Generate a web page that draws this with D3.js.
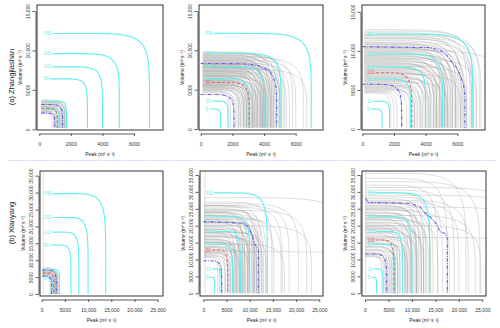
<!DOCTYPE html>
<html><head><meta charset="utf-8">
<script src="https://cdn.jsdelivr.net/npm/d3@7"></script>
<style>body{margin:0;background:#fff} text{font-family:"Liberation Sans",Arial,sans-serif}</style>
</head><body><svg id="c" width="500" height="328"></svg>
<script>
// ---------------- DATA ----------------
const rowNames = ["(a) Zhangjiashan", "(b) Xianyang"];
const xTicksTop = [0, 2000, 4000, 6000];
const yTicksTop = [0, 5000, 10000, 15000];
const xTicksBot = [0, 5000, 10000, 15000, 20000, 25000];
const yTicksBot = [0, 5000, 10000, 15000, 20000, 25000, 30000, 35000];

// return-period contours (cyan), asymptotic volume V and peak P
const cyanLabels = ["5", "10", "50", "100", "200", "500"];
const cyanVTop = [2550, 3550, 6400, 7920, 9600, 12150];
const cyanPTop = [1250, 1720, 3050, 4000, 5070, 6980];
const cyanVBot = [4700, 7200, 14500, 18300, 22650, 29700];
const cyanPBot = [2450, 3850, 6300, 8000, 10000, 13800];

// red dashed contour per panel
const redLabel = [null, "50", "100", null, "50", "100"];
const redV = [2660, 5910, 7200, 6200, 12810, 15770];
const redP = [1140, 3070, 3120, 2600, 5250, 6180];
// blue dash-dot bounds per panel
const blueInV = [2050, 4390, 5720, 5300, 9650, 11630];
const blueInP = [980, 2100, 2480, 2100, 3960, 4620];
const blueOutV = [3150, 8320, null, 7000, null, null];
const blueOutP = [1480, 4800, null, 3150, null, null];
const blueOut3X = [0, 4270, 4900, 5330, 5640, 5920, 6170, 6340, 6460, 6480, 6480];
const blueOut3V = [10530, 10400, 10100, 9460, 8610, 7970, 6900, 6050, 4990, 3710, 80];
const blueOut5X = [0, 5000, 8600, 9700, 10400, 11000, 11400, 11860, 11860];
const blueOut5V = [21200, 21000, 20700, 19700, 17700, 14600, 14000, 12800, 0];
const blueOut6X = [140, 710, 9600, 11730, 12790, 13860, 15140, 15990, 17060, 17550, 17550];
const blueOut6V = [28100, 26820, 26620, 25630, 23660, 22670, 20700, 18230, 17740, 16260, 0];

// grey sampled contours (V, P) per panel
const g1V = [3700, 3600, 3500, 3400, 3300, 3200, 3100, 3000, 2900, 2800, 2700, 2600, 2500, 2400, 2300, 2200, 2100, 3450, 3150, 2850, 2550, 2250];
const g1P = [1750, 1600, 1700, 1500, 1650, 1400, 1550, 1350, 1450, 1250, 1300, 1150, 1200, 1050, 1000, 900, 800, 1600, 1450, 1300, 1100, 950];
const g2V = [9800, 9700, 9600, 9500, 9400, 9300, 9200, 9100, 9000, 8900, 8800, 8700, 8600, 8500, 8400, 8300, 8200, 8100, 8000, 7900, 7800, 7700, 7600, 7500, 7400, 7300, 7200, 7100, 7000, 6900, 6800, 6700, 6600, 6500, 6400, 6300, 6200, 6100, 6000, 5900, 5800, 5700, 5600, 5500, 5400, 5300, 5200, 5100, 5000, 4900, 4800, 4700, 4600, 8800, 9300, 7800, 8200,
  8450, 8250, 8050, 7850, 7650, 7450, 7250, 7050, 6850, 6650, 6450, 6250, 6050, 5850, 5650, 5450, 5250, 5050, 7950, 7350, 6750, 6150, 5550, 8650, 9050];
const g2P = [4500, 5100, 4800, 5300, 4300, 5000, 4600, 6500, 4900, 4200, 5200, 4700, 4000, 4500, 5600, 4100, 4400, 3800, 4300, 3900, 4600, 3700, 6700, 4100, 3500, 4000, 3600, 4400, 3400, 3800, 3300, 3700, 3100, 4200, 3200, 3500, 3000, 3300, 2800, 3600, 2900, 2700, 3100, 2600, 2900, 2400, 2700, 2300, 2500, 2100, 1900, 2200, 1800, 6000, 5800, 5400, 5000,
  3900, 4700, 4100, 3600, 4200, 3800, 3300, 3900, 3500, 3000, 3400, 2900, 3200, 2700, 3000, 2500, 2800, 2400, 5000, 4500, 4000, 3800, 3300, 4400, 4000];
const g3V = [12700, 12500, 12300, 12100, 11900, 11700, 11500, 11300, 11100, 10900, 10700, 10500, 10300, 10100, 10000, 9900, 9700, 9500, 9300, 9100, 8900, 8700, 8500, 8300, 8100, 7900, 7700, 7500, 7300, 7100, 6900, 6700, 6500, 6300, 6100, 5900, 5700, 5500, 5300, 5100, 5000, 4900, 4800, 4700, 4600, 9000, 8000, 7000, 10500, 11000, 6000,
  10800, 10400, 10200, 9800, 9600, 9400, 9200, 8800, 8600, 8400, 8200, 7800, 7600, 7400, 7200, 6800, 6600, 6400, 6200, 5800, 5600, 5400, 5200, 12000, 11600];
const g3P = [7000, 7400, 6600, 7500, 6200, 7200, 6800, 5900, 7000, 6400, 5600, 6900, 6000, 5300, 9000, 5800, 5000, 6300, 5500, 4700, 5900, 5200, 4500, 5600, 4800, 4300, 5300, 4600, 4000, 5000, 4200, 3800, 4600, 3600, 4000, 3400, 3200, 3700, 3000, 2800, 3300, 2500, 2200, 2000, 1800, 7200, 6600, 6200, 4900, 5200, 5400,
  6100, 5700, 6500, 5400, 5900, 5200, 5700, 4900, 5400, 4700, 5100, 4500, 4900, 4300, 4700, 4100, 4400, 3900, 4200, 3700, 3500, 3300, 3100, 6900, 6300];
const g4V = [60000, 7600, 7400, 7200, 7000, 6800, 6600, 6400, 6200, 6000, 5800, 5600, 5400, 5200, 5100, 7100, 6500, 5900];
const g4P = [350, 3580, 3300, 3450, 3100, 3250, 2900, 3000, 2700, 2800, 2500, 2400, 2200, 2000, 1800, 3350, 2850, 2300];
const g5V = [60000, 28300, 27000, 26500, 26000, 25500, 25000, 24500, 24000, 23500, 23000, 22500, 22000, 21500, 21000, 20500, 20000, 19500, 19000, 18500, 18000, 17500, 17000, 16500, 16000, 15500, 15000, 14500, 14000, 13500, 13000, 12500, 12300, 12000, 11500, 11200, 11000, 10800, 10600, 22000, 26000, 21000, 18000, 15000, 24000, 20000, 17000, 13500, 19000, 23000, 16000,
  25800, 24800, 23800, 22800, 21800, 20800, 19800, 18800, 17800, 16800, 15800, 14800, 13800, 12800, 11800, 24200, 21200, 18200, 15200, 12200];
const g5P = [370, 32000, 14800, 20500, 12500, 17000, 11500, 22300, 10500, 13000, 9800, 15200, 11000, 8900, 12000, 9500, 23300, 8300, 10800, 7800, 13500, 9000, 7200, 11500, 6800, 8500, 6300, 17500, 7500, 5800, 10000, 5200, 40000, 6500, 4600, 4000, 5500, 3500, 3100, 16800, 18500, 7500, 6000, 9500, 8500, 11500, 10000, 8000, 6800, 12000, 5300,
  11000, 12000, 9500, 10800, 9000, 11200, 8600, 9800, 8000, 10500, 7200, 8200, 6500, 7800, 5800, 13500, 12500, 12800, 7000, 4800];
const g6V = [60000, 35500, 34000, 33000, 32000, 31300, 30500, 29800, 29000, 28500, 28000, 27500, 27000, 26500, 26000, 25500, 25000, 24500, 24000, 23500, 23000, 22500, 22000, 21500, 21000, 20500, 20000, 19500, 19000, 18500, 18000, 17500, 17000, 16500, 16000, 15500, 15000, 14500, 14000, 13500, 13000, 12500, 12000, 11500, 11200, 11000, 10800, 27000, 23000, 20000,
  26800, 25800, 24800, 23800, 22800, 21800, 20800, 19800, 18800, 17800, 16800, 15800, 14800, 13800, 12800, 11800, 25200, 22200, 19200, 16200];
const g6P = [150, 21500, 17500, 24500, 15500, 34000, 19000, 13800, 36000, 16500, 12500, 22000, 11500, 14500, 10800, 38000, 12000, 18000, 9800, 13000, 9200, 11000, 8600, 15500, 10000, 8000, 12000, 7400, 9500, 6900, 11000, 6500, 8500, 40000, 6000, 7500, 5600, 9000, 5200, 6500, 4800, 5800, 4400, 5000, 4000, 3600, 4300, 20000, 23500, 24700,
  13000, 11000, 12500, 10500, 12000, 9800, 11300, 9000, 10200, 8500, 9800, 7000, 8000, 6200, 7000, 5500, 14000, 13500, 12500, 9000];

const greyV = [g1V, g2V, g3V, g4V, g5V, g6V];
const greyP = [g1P, g2P, g3P, g4P, g5P, g6P];
const blueJagX = [null, null, blueOut3X, null, blueOut5X, blueOut6X];
const blueJagV = [null, null, blueOut3V, null, blueOut5V, blueOut6V];

// ---------------- LAYOUT ----------------
const layouts = [
  {box: [37, 5, 163, 130], xd: [0, 6000], xr: [39.3, 134], yd: [0, 15000], yr: [129.3, 11], row: 0},
  {box: [199, 5, 323, 130], xd: [0, 6000], xr: [200.7, 295.7], yd: [0, 15000], yr: [129, 11], row: 0},
  {box: [362, 5, 485, 130], xd: [0, 6000], xr: [362.3, 457.3], yd: [0, 15000], yr: [129, 11.7], row: 0},
  {box: [40, 171, 163, 296], xd: [0, 25000], xr: [41.7, 157.7], yd: [0, 35000], yr: [294, 175.7], row: 1},
  {box: [200, 171, 323, 296], xd: [0, 25000], xr: [203.3, 319.3], yd: [0, 35000], yr: [293.3, 175], row: 1},
  {box: [362, 171, 486, 296], xd: [0, 25000], xr: [365, 482.3], yd: [0, 35000], yr: [293.3, 175], row: 1}
];

const CYAN = "#5ff0f0", BLUE = "#6262e6", RED = "#e26a6a", GREY = "#8c8c8c";
const svg = d3.select("#c");
const fmt = v => v >= 10000 ? d3.format(",")(v) : String(v);

function seCurve(x0, y0, P, V, n) {
  const pts = [];
  const steps = 120;
  for (let i = 0; i <= steps; i++) {
    const th = i / steps * Math.PI / 2;
    pts.push([x0 + (P - x0) * Math.pow(Math.sin(th), 2 / n),
              y0 + (V - y0) * Math.pow(Math.cos(th), 2 / n)]);
  }
  return pts;
}

// separator
svg.append("line").attr("x1", 8).attr("x2", 496).attr("y1", 160.5).attr("y2", 160.5)
  .attr("stroke", "#b4b4ee").attr("stroke-width", 0.8).attr("stroke-dasharray", "1.2,1.2");

layouts.forEach((L, i) => {
  const [bx0, by0, bx1, by1] = L.box;
  const x = d3.scaleLinear().domain(L.xd).range(L.xr);
  const y = d3.scaleLinear().domain(L.yd).range(L.yr);
  const line = d3.line().x(d => x(d[0])).y(d => y(d[1]));
  const top = L.row === 0;
  const y0 = top ? 150 : 0;
  const gx0 = top ? 120 : 150;

  svg.append("clipPath").attr("id", "cp" + i).append("rect")
    .attr("x", bx0).attr("y", by0).attr("width", bx1 - bx0).attr("height", by1 - by0);
  const g = svg.append("g").attr("clip-path", `url(#cp${i})`);

  // grey sampled curves
  greyV[i].forEach((V, j) => {
    g.append("path").attr("d", line(seCurve(gx0, y0, greyP[i][j], V, 6)))
      .attr("fill", "none").attr("stroke", GREY).attr("stroke-opacity", 0.32).attr("stroke-width", 0.9);
  });

  // cyan contours with labels
  const cV = top ? cyanVTop : cyanVBot, cP = top ? cyanPTop : cyanPBot;
  const labX = top ? 300 : 520;
  cyanLabels.forEach((lab, k) => {
    const t = svg.append("text").attr("x", x(labX)).attr("y", y(cV[k])).attr("dy", "0.35em")
      .attr("font-size", 4.6).attr("fill", CYAN).text(lab);
    const w = t.node().getComputedTextLength();
    const xs = x.invert(x(labX) + w + 1.2);
    g.append("path").attr("d", line(seCurve(xs, y0, cP[k], cV[k], 7)))
      .attr("fill", "none").attr("stroke", CYAN).attr("stroke-width", 1.1);
  });

  // blue bounds
  const bStart = (i === 0 || i === 3) ? gx0 : 0;
  g.append("path").attr("d", line(seCurve(bStart, y0, blueInP[i], blueInV[i], 6)))
    .attr("fill", "none").attr("stroke", BLUE).attr("stroke-width", 1.1).attr("stroke-dasharray", "3.5,1.3,1,1.3");
  let outPts;
  if (blueOutV[i] !== null) outPts = seCurve(bStart, y0, blueOutP[i], blueOutV[i], 6);
  else outPts = blueJagX[i].map((xx, k) => [xx, blueJagV[i][k]]);
  g.append("path").attr("d", line(outPts))
    .attr("fill", "none").attr("stroke", BLUE).attr("stroke-width", 1.1).attr("stroke-dasharray", "3.5,1.3,1,1.3");

  // red
  let rx = bStart;
  if (redLabel[i]) {
    const t = svg.append("text").attr("x", x(labX)).attr("y", y(redV[i])).attr("dy", "0.35em")
      .attr("font-size", 4.6).attr("fill", RED).text(redLabel[i]);
    rx = x.invert(x(labX) + t.node().getComputedTextLength() + 1.2);
  }
  g.append("path").attr("d", line(seCurve(rx, y0, redP[i], redV[i], 6)))
    .attr("fill", "none").attr("stroke", RED).attr("stroke-width", 1.1).attr("stroke-dasharray", "3.2,1.8");

  // box
  svg.append("rect").attr("x", bx0).attr("y", by0).attr("width", bx1 - bx0).attr("height", by1 - by0)
    .attr("fill", "none").attr("stroke", "#333").attr("stroke-width", 1);

  // x axis
  const xa = svg.append("g").attr("transform", `translate(0,${by1 + 3.5})`)
    .call(d3.axisBottom(x).tickValues(top ? xTicksTop : xTicksBot).tickSize(2.5).tickSizeOuter(0).tickPadding(6.5).tickFormat(fmt));
  xa.selectAll("path,line").attr("stroke", "#333").attr("stroke-width", 0.8);
  xa.selectAll("text").attr("font-size", 5).attr("font-family", "Liberation Sans, Arial, sans-serif").attr("fill", "#333");

  // y axis
  const ya = svg.append("g").attr("transform", `translate(${bx0 - 1.5},0)`)
    .call(d3.axisLeft(y).tickValues(top ? yTicksTop : yTicksBot).tickSize(3).tickSizeOuter(0).tickFormat(fmt));
  ya.selectAll("path,line").attr("stroke", "#333").attr("stroke-width", 0.8);
  ya.selectAll("text").attr("font-size", 5).attr("font-family", "Liberation Sans, Arial, sans-serif").attr("fill", "#333")
    .attr("transform", "rotate(-90)").attr("x", 0).attr("y", -6).attr("dy", 0).attr("text-anchor", "middle");

  // titles
  svg.append("text").attr("x", (bx0 + bx1) / 2).attr("y", by1 + 25.5).attr("text-anchor", "middle")
    .attr("font-size", 5).attr("fill", "#222").text("Peak (m³ s⁻¹)");
  svg.append("text").attr("transform", `translate(${bx0 - 15.3},${(by0 + by1) / 2}) rotate(-90)`)
    .attr("text-anchor", "middle").attr("font-size", 5).attr("fill", "#222").text("Volume (m³ s⁻¹)");
});

// row labels
svg.append("text").attr("transform", "translate(13.5,77) rotate(-90)").attr("text-anchor", "middle")
  .attr("font-size", 7.5).attr("fill", "#222").text(rowNames[0]);
svg.append("text").attr("transform", "translate(13.5,223) rotate(-90)").attr("text-anchor", "middle")
  .attr("font-size", 7.5).attr("fill", "#222").text(rowNames[1]);
</script></body></html>
